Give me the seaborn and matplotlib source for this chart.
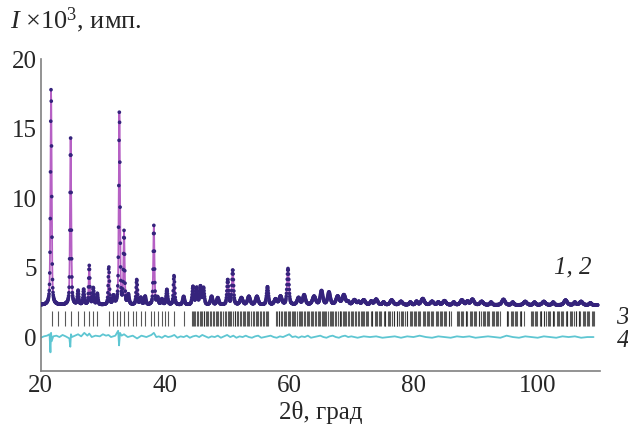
import numpy as np
import pandas as pd
import matplotlib
matplotlib.use("Agg")
import matplotlib.pyplot as plt
import seaborn as sns

# Peak list: position (deg), height above background (x10^3), FWHM (deg)
peak_pos = [21.65, 24.8, 26.0, 26.9, 27.8, 28.45, 29.1, 30.95, 31.7, 32.65, 33.4, 34.1,
            35.45, 36.1, 36.8, 38.2, 38.8, 39.5, 40.3, 41.45, 43.0, 44.5, 45.1, 45.7,
            46.2, 47.5, 48.5, 50.1, 50.9, 52.3, 53.5, 54.8, 56.5, 57.8, 58.6, 59.8,
            61.5, 62.4, 64.0, 65.2, 66.4, 67.8, 68.8, 70.5, 72.0, 74.0, 76.5, 78.0,
            81.5, 83.0, 85.0, 87.8, 89.5, 91.0, 94.5, 98.0, 101.0, 104.5, 107.0,
            69.5, 71.2, 73.2, 75.2, 79.5, 80.5, 84.0, 86.5, 88.7, 92.5, 96.0, 99.5,
            102.5, 106.0, 108.5]
peak_height = [15.6, 12.0, 1.0, 1.1, 2.8, 1.2, 0.8, 2.7, 0.6, 13.9, 5.2, 0.7,
               1.8, 0.5, 0.6, 5.7, 0.5, 0.4, 1.1, 2.1, 0.6, 1.3, 1.2, 1.3,
               1.2, 0.6, 0.5, 1.8, 2.5, 0.5, 0.6, 0.6, 1.3, 0.4, 0.6, 2.6,
               0.5, 0.7, 0.6, 1.0, 0.9, 0.6, 0.7, 0.35, 0.35, 0.4, 0.35, 0.25,
               0.45, 0.25, 0.3, 0.35, 0.4, 0.25, 0.4, 0.25, 0.25, 0.35, 0.25,
               0.2, 0.2, 0.25, 0.2, 0.2, 0.25, 0.2, 0.2, 0.25, 0.2, 0.2, 0.2,
               0.2, 0.2, 0.15]
peak_fwhm = [0.22, 0.22, 0.25, 0.25, 0.22, 0.25, 0.25, 0.22, 0.3, 0.22, 0.22, 0.3,
             0.25, 0.3, 0.3, 0.22, 0.3, 0.3, 0.3, 0.25, 0.35, 0.3, 0.3, 0.3,
             0.3, 0.4, 0.4, 0.3, 0.3, 0.5, 0.5, 0.5, 0.35, 0.5, 0.5, 0.35,
             0.5, 0.5, 0.6, 0.5, 0.5, 0.6, 0.6, 0.6, 0.6, 0.6, 0.6, 0.6,
             0.6, 0.6, 0.6, 0.6, 0.6, 0.6, 0.6, 0.6, 0.6, 0.6, 0.6,
             0.4, 0.4, 0.4, 0.4, 0.4, 0.4, 0.4, 0.4, 0.4, 0.4, 0.4, 0.4,
             0.4, 0.4, 0.4]
background = 2.3

# Bragg reflection positions (deg)
bragg_pos = [21.8, 22.8, 23.9, 24.8, 26.0, 26.9, 27.7, 28.4, 29.1, 31.0, 31.7, 32.2,
             32.7, 33.4, 34.1, 34.9, 35.4, 36.1, 36.8, 37.7, 38.2, 38.8, 39.5, 40.0,
             40.5, 41.5, 43.0,
             44.3, 44.5, 44.6, 44.9, 45.1, 45.3, 45.6, 45.8, 45.9, 46.2, 46.3, 46.6,
             46.7, 47.0, 47.2, 47.4, 47.7, 47.9, 48.2, 48.4, 48.6, 48.9, 49.0, 49.3,
             49.6, 49.8, 50.1, 50.3, 50.5, 50.7, 50.9, 51.2, 51.3, 51.6, 51.8, 52.0,
             52.2, 52.5, 52.7, 52.9, 53.2, 53.4, 53.6, 53.8, 54.1, 54.3, 54.6, 54.8,
             55.0, 55.3, 55.5, 55.8, 56.0, 56.2, 56.4, 56.6,
             57.9, 58.0, 58.3, 58.4, 58.7, 58.9, 59.1, 59.3, 59.5, 59.8, 60.0, 60.2,
             60.4, 60.6, 60.8, 61.0, 61.3, 61.5, 61.7, 61.9, 62.1, 62.4, 62.6, 62.8,
             63.0, 63.2, 63.5, 63.7, 63.9, 64.1, 64.3, 64.6, 64.8, 65.0, 65.3, 65.4,
             65.6, 65.8, 66.0, 66.3, 66.5, 66.7, 66.9, 67.1, 67.4, 67.6, 67.8, 68.1,
             68.2, 68.4, 68.6, 68.8, 69.0, 69.2, 69.5, 69.7, 69.9, 70.1, 70.3, 70.6,
             70.8, 71.0, 71.3, 71.5, 71.7, 71.9, 72.0, 72.4, 72.6, 72.7, 73.1, 73.3,
             73.4, 73.8, 74.0, 74.1, 74.5, 74.6, 74.8, 75.2, 75.4, 75.5, 75.9, 76.0,
             76.2, 76.6, 76.8, 76.9, 77.3, 77.4, 77.6, 78.0, 78.2, 78.3, 78.7, 78.9,
             79.0, 79.4, 79.6, 79.7, 80.1, 80.3, 80.4, 80.8, 80.9, 81.1, 81.5, 81.7,
             81.8, 82.2, 82.4, 82.5, 82.9, 83.0, 83.2, 83.6, 83.8, 83.9, 84.3, 84.5,
             84.6, 85.0, 85.1, 85.3, 85.7, 85.8, 86.0,
             87.0, 87.2, 87.3, 87.7, 87.9, 88.0, 88.4, 88.5, 88.7, 89.1, 89.3, 89.4,
             89.8, 89.9, 90.1, 90.5, 90.6, 90.8, 91.2, 91.4, 91.5, 91.9, 92.0, 92.2,
             92.6, 92.8, 92.9, 93.3, 93.4, 93.6, 94.0,
             95.0, 95.1, 95.3, 95.7, 95.9, 96.0, 96.4, 96.5, 96.7, 97.1, 97.3, 97.4,
             97.8,
             98.9, 99.1, 99.2, 99.6, 99.7, 99.9, 100.3, 100.5, 100.6, 101.0, 101.1, 101.3,
             101.7, 101.9, 102.0, 102.4, 102.5, 102.7, 103.1, 103.3, 103.4, 103.8, 103.9,
             104.1, 104.5, 104.7, 104.8, 105.2, 105.3, 105.5, 105.9, 106.1, 106.2, 106.6,
             106.7, 106.9, 107.3, 107.5, 107.6, 108.0, 108.1, 108.3, 108.7, 108.9, 109.0]

# Difference curve (obs - calc), read at selected angles
diff_x = [20.0, 20.5, 21.0, 21.4, 21.55, 21.65, 21.75, 22.0, 22.5, 23.0, 23.5, 24.0,
          24.6, 24.75, 24.85, 25.0, 25.5, 26.0, 26.5, 27.0, 27.5, 27.8, 28.2, 28.8,
          29.5, 30.0, 30.5, 30.9, 31.3, 32.0, 32.45, 32.6, 32.75, 33.0, 33.4, 34.0,
          34.8, 35.5, 36.2, 37.0, 37.8, 38.2, 38.6, 39.0, 39.5, 40.0, 40.5, 41.0,
          41.5, 42.0, 42.5, 43.0, 43.5, 44.0, 44.5, 45.0, 45.5, 46.0, 46.5, 47.0,
          47.5, 48.0, 48.5, 49.0, 49.5, 50.0, 50.5, 51.0, 51.5, 52.0, 52.5, 53.0,
          53.5, 54.0, 54.5, 55.0, 55.5, 56.0, 56.5, 57.0, 57.5, 58.0, 58.5, 59.0,
          59.5, 60.0, 60.5, 61.0, 61.5, 62.0, 62.5, 63.0, 63.5, 64.0, 64.5, 65.0,
          65.5, 66.0, 66.5, 67.0, 67.5, 68.0, 68.5, 69.0, 69.5, 70.0, 71.0, 72.0,
          73.0, 74.0, 75.0, 76.0, 77.0, 78.0, 79.0, 80.0, 81.0, 82.0, 83.0, 84.0,
          85.0, 86.0, 87.0, 88.0, 89.0, 90.0, 91.0, 92.0, 93.0, 94.0, 95.0, 96.0,
          97.0, 98.0, 99.0, 100.0, 101.0, 102.0, 103.0, 104.0, 105.0, 106.0, 107.0,
          108.0, 109.0]
diff_y = [-0.05, 0.05, 0.1, 0.2, -1.1, 0.3, -0.3, 0.05, 0.1, 0.0, 0.15, 0.05,
          -0.1, -0.7, 0.2, 0.0, 0.1, 0.2, 0.05, 0.3, 0.1, 0.25, 0.0, 0.1,
          0.05, 0.2, 0.1, 0.15, 0.0, 0.1, 0.45, -0.6, 0.3, 0.1, 0.2, 0.0,
          0.1, -0.1, 0.1, 0.0, 0.15, 0.3, 0.0, 0.05, -0.05, 0.1, 0.0, 0.05,
          0.15, -0.05, 0.05, 0.0, 0.1, -0.05, 0.05, 0.1, 0.0, 0.15, 0.05, -0.05,
          0.05, 0.0, 0.1, -0.05, 0.05, 0.15, 0.0, 0.1, -0.05, 0.05, 0.0, 0.1,
          0.0, -0.05, 0.05, 0.1, -0.05, 0.0, 0.05, 0.1, 0.0, -0.05, 0.05, 0.0,
          0.1, 0.2, 0.0, 0.05, -0.05, 0.05, 0.0, 0.1, -0.05, 0.0, 0.05, 0.1,
          0.0, -0.05, 0.05, 0.1, 0.0, -0.05, 0.05, 0.1, 0.0, 0.05, -0.05, 0.05,
          0.0, 0.05, -0.05, 0.0, 0.05, -0.05, 0.05, 0.0, 0.1, 0.0, -0.05, 0.05,
          0.0, -0.05, 0.05, 0.0, 0.05, -0.05, 0.0, 0.05, 0.0, -0.05, 0.1, 0.0,
          -0.05, 0.05, 0.0, -0.05, 0.05, 0.0, -0.05, 0.05, 0.0, 0.05, -0.05,
          0.0, 0.0]

# Build the profile from the peak list (pseudo-Voigt shape)
two_theta = np.arange(20.0, 109.7, 0.04)
intensity = np.full_like(two_theta, background)
for p, h, w in zip(peak_pos, peak_height, peak_fwhm):
    g = np.exp(-4 * np.log(2) * ((two_theta - p) / w) ** 2)
    l = 1 / (1 + 4 * ((two_theta - p) / w) ** 2)
    intensity += h * (0.5 * g + 0.5 * l)

df = pd.DataFrame({"two_theta": two_theta, "calc": intensity})
diff = pd.DataFrame({"two_theta": diff_x, "diff": diff_y})

sns.set_style("white")
plt.rcParams["font.family"] = ["Liberation Serif", "DejaVu Serif"]
plt.rcParams["mathtext.fontset"] = "custom"
plt.rcParams["mathtext.rm"] = "Liberation Serif"
plt.rcParams["mathtext.it"] = "Liberation Serif:italic"

fig = plt.figure(figsize=(6.28, 4.32), dpi=100)
ax = fig.add_axes([0.065, 0.141, 0.89, 0.722])

sns.lineplot(data=df, x="two_theta", y="calc", color="#b660c4", lw=1.3, ax=ax)
sns.scatterplot(data=df, x="two_theta", y="calc", color="#35237c", s=7,
                edgecolor="none", ax=ax, zorder=3)
ax.vlines(bragg_pos, 0.8, 1.85, color="#222222", lw=0.8, alpha=0.75)
sns.lineplot(data=diff, x="two_theta", y="diff", color="#5ec6d2", lw=1.3, ax=ax)

ax.set_xlim(20, 110)
ax.set_ylim(-2.45, 20)
ax.set_xticks([20, 40, 60, 80, 100])
ax.set_yticks([0, 5, 10, 15, 20])
ax.set_xlabel("")
ax.set_ylabel("")
for s in ["top", "right"]:
    ax.spines[s].set_visible(False)
for s in ["left", "bottom"]:
    ax.spines[s].set_color("#808080")
    ax.spines[s].set_linewidth(1.2)
ax.tick_params(direction="in", length=5, color="#808080", labelsize=18, pad=3)

fig.text(0.016, 0.935, "$I$ ×10$^3$, имп.", fontsize=19, va="baseline")
fig.text(0.51, 0.03, "2θ, град", fontsize=18, ha="center", va="baseline")
ax.text(105.6, 5.0, "1, 2", fontsize=18, style="italic", ha="center", va="center")
ax.text(113.7, 1.35, "3", fontsize=18, style="italic", ha="center", va="center", clip_on=False)
ax.text(113.7, -0.3, "4", fontsize=18, style="italic", ha="center", va="center", clip_on=False)

fig.savefig("out.png", dpi=100)
